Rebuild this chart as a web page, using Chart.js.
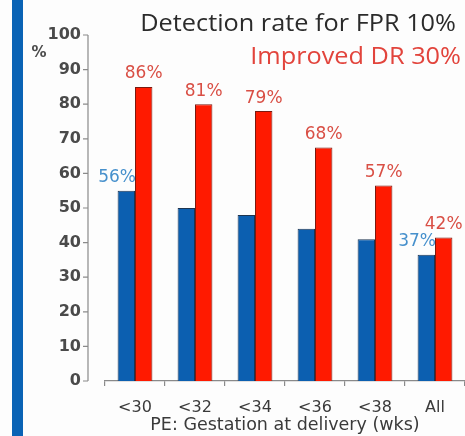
<!DOCTYPE html>
<html>
<head>
<meta charset="utf-8">
<script src="https://cdn.jsdelivr.net/npm/chart.js@4/dist/chart.umd.min.js"></script>
<style>
  html, body { margin: 0; padding: 0; background: #fdfdfd; }
  #wrap {
    width: 465px; height: 436px; position: relative;
    background: linear-gradient(to right, #fdfdfd 0, #fdfdfd 12px, #0a63b5 12px, #0a63b5 23px, #fdfdfd 23px);
  }
  canvas { position: absolute; left: 0; top: 0; }
</style>
</head>
<body>
<div id="wrap"><canvas id="c" width="465" height="436"></canvas></div>
<script>
// data
var groups = ['<30', '<32', '<34', '<36', '<38', 'All'];
var detection = [55, 50, 48, 44, 41, 36.5];
var improved = [85, 80, 78, 67.5, 56.5, 41.5];
var detectionLabels = ['56%', '', '', '', '', '37%'];
var improvedLabels = ['86%', '81%', '79%', '68%', '57%', '42%'];
var yTicks = [0, 10, 20, 30, 40, 50, 60, 70, 80, 90, 100];

var axisGray = '#8a8a8a';

// slide text is a bit stretched sideways, so squeeze/stretch with a scale
function wideText(ctx, txt, right, y, sx) {
    ctx.save();
    ctx.translate(right, y);
    ctx.scale(sx, 1);
    ctx.textAlign = 'right';
    ctx.fillText(txt, 0, 0);
    ctx.restore();
}

// y axis line sits a bit left of the plot, like on the slide
var extras = {
    id: 'extras',
    afterDraw: function(chart) {
        var ctx = chart.ctx;
        var ys = chart.scales.y;
        var ax = chart.chartArea.left - 17;
        ctx.save();
        ctx.strokeStyle = axisGray;
        ctx.lineWidth = 1.2;
        ctx.beginPath();
        ctx.moveTo(ax, ys.getPixelForValue(100));
        ctx.lineTo(ax, ys.getPixelForValue(0));
        yTicks.forEach(function(t) {
            var py = ys.getPixelForValue(t);
            ctx.moveTo(ax - 5, py);
            ctx.lineTo(ax, py);
        });
        ctx.stroke();

        // "%" axis title
        ctx.fillStyle = '#4a4a4a';
        ctx.font = 'bold 15px "DejaVu Sans"';
        ctx.textAlign = 'center';
        ctx.textBaseline = 'middle';
        ctx.fillText('%', 39, 53);

        // value labels
        ctx.font = '17px "DejaVu Sans"';
        var m0 = chart.getDatasetMeta(0);
        var m1 = chart.getDatasetMeta(1);
        ctx.fillStyle = '#4690cc';
        ctx.textAlign = 'right';
        m0.data.forEach(function(bar, i) {
            if (detectionLabels[i]) ctx.fillText(detectionLabels[i], bar.x + bar.width / 2 + 1, bar.y - 13);
        });
        ctx.fillStyle = '#d94f45';
        ctx.textAlign = 'center';
        m1.data.forEach(function(bar, i) {
            if (improvedLabels[i]) ctx.fillText(improvedLabels[i], bar.x, bar.y - 13);
        });

        // headings
        ctx.font = '23px "Open Sans"';
        ctx.fillStyle = '#2b2b2b';
        wideText(ctx, 'Detection rate for FPR 10%', 456, 24, 1.1);
        ctx.fillStyle = '#e2443c';
        wideText(ctx, 'Improved DR 30%', 461, 57, 1.1);
        ctx.restore();
    }
};

var ctx = document.getElementById('c').getContext('2d');
var chart = new Chart(ctx, {
    type: 'bar',
    data: {
        labels: groups,
        datasets: [{
            label: 'Detection rate for FPR 10%',
            data: detection,
            backgroundColor: '#0c5fb0',
            borderColor: '#1f3550',
            borderWidth: 1,
            categoryPercentage: 0.58,
            barPercentage: 1
        }, {
            label: 'Improved DR 30%',
            data: improved,
            backgroundColor: '#ff1a00',
            borderColor: '#7a1a10',
            borderWidth: 1,
            categoryPercentage: 0.58,
            barPercentage: 1
        }]
    },
    options: {
        responsive: false,
        animation: false,
        layout: { padding: { top: 35, left: 0, right: 0, bottom: 0 } },
        plugins: { legend: { display: false }, tooltip: { enabled: false } },
        scales: {
            x: {
                afterFit: function(s) { s.height = 55; },
                grid: { display: true, drawOnChartArea: false, offset: true, tickLength: 5, color: axisGray, lineWidth: 1.2 },
                border: { display: true, color: axisGray, width: 1.2 },
                ticks: { color: '#3a3a3a', font: { family: 'DejaVu Sans', size: 16 }, padding: 12 },
                title: {
                    display: true,
                    text: 'PE: Gestation at delivery (wks)',
                    color: '#3a3a3a',
                    font: { family: 'DejaVu Sans', size: 17.5 },
                    padding: { top: 0, bottom: 0 }
                }
            },
            y: {
                min: 0,
                max: 100,
                afterFit: function(s) { s.width = 105; },
                grid: { display: false, drawTicks: false },
                border: { display: false },
                ticks: { stepSize: 10, color: '#4a4a4a', font: { family: 'DejaVu Sans', size: 16, weight: 'bold' }, padding: 24 }
            }
        }
    },
    plugins: [extras]
});
</script>
</body>
</html>
